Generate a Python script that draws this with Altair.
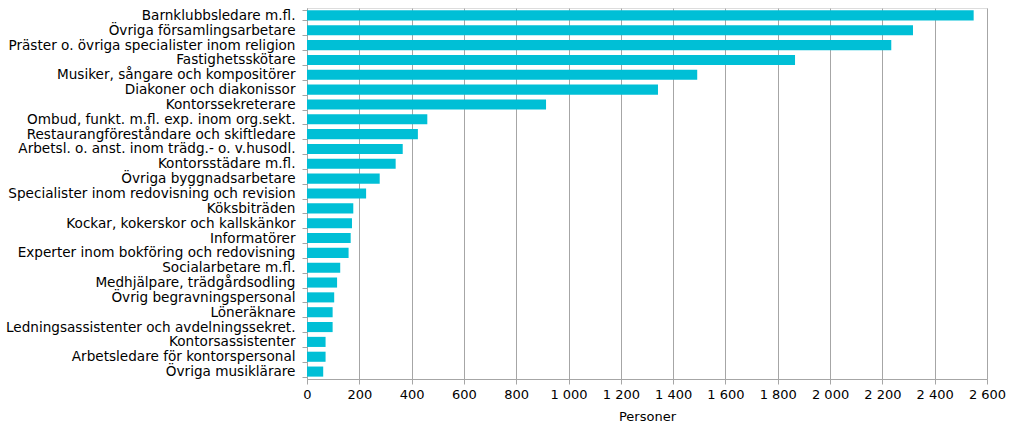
import altair as alt
import pandas as pd

categories = [
    "Barnklubbsledare m.fl.",
    "Övriga församlingsarbetare",
    "Präster o. övriga specialister inom religion",
    "Fastighetsskötare",
    "Musiker, sångare och kompositörer",
    "Diakoner och diakonissor",
    "Kontorssekreterare",
    "Ombud, funkt. m.fl. exp. inom org.sekt.",
    "Restaurangföreståndare och skiftledare",
    "Arbetsl. o. anst. inom trädg.- o. v.husodl.",
    "Kontorsstädare m.fl.",
    "Övriga byggnadsarbetare",
    "Specialister inom redovisning och revision",
    "Köksbiträden",
    "Kockar, kokerskor och kallskänkor",
    "Informatörer",
    "Experter inom bokföring och redovisning",
    "Socialarbetare m.fl.",
    "Medhjälpare, trädgårdsodling",
    "Övrig begravningspersonal",
    "Löneräknare",
    "Ledningsassistenter och avdelningssekret.",
    "Kontorsassistenter",
    "Arbetsledare för kontorspersonal",
    "Övriga musiklärare",
]
values = [2549, 2317, 2234, 1866, 1492, 1342, 914, 460, 424, 366, 339, 278, 226,
          177, 172, 167, 159, 127, 115, 104, 98, 98, 71, 71, 62]

df = pd.DataFrame({"Yrke": categories, "Personer": values})

FONT = "DejaVu Sans"
GRAY = "#a6a6a6"

chart = alt.Chart(df).mark_bar(color="#00BFD6").encode(
    x=alt.X(
        "Personer:Q",
        scale=alt.Scale(domain=[0, 2600], nice=False),
        axis=alt.Axis(
            values=list(range(0, 2601, 200)),
            format=",d",
            labelExpr="replace(datum.label, ',', ' ')",
            title="Personer",
            titleFontWeight="normal",
            titleFontSize=13,
            titleFont=FONT,
            titleColor="#000000",
            titlePadding=9,
            labelFont=FONT,
            labelFontSize=13,
            labelColor="#000000",
            labelPadding=4,
            tickSize=5,
            tickColor=GRAY,
            domainColor=GRAY,
            gridColor=GRAY,
            grid=True,
            labelFlush=False,
        ),
    ),
    y=alt.Y(
        "Yrke:N",
        sort=categories,
        scale=alt.Scale(paddingInner=0.32, paddingOuter=0.16),
        axis=alt.Axis(
            title=None,
            labelFont=FONT,
            labelFontSize=13.6,
            labelColor="#000000",
            labelLimit=400,
            labelPadding=7,
            tickSize=5,
            tickBand="extent",
            tickColor=GRAY,
            domainColor=GRAY,
            grid=False,
        ),
    ),
).properties(
    width=680,
    height=371,
    autosize=alt.AutoSizeParams(type="none"),
    padding={"left": 307, "top": 8, "right": 37, "bottom": 53},
).configure_view(stroke=None).configure(background="white")

chart.save("out.html", embed_options={"renderer": "svg", "actions": False})
